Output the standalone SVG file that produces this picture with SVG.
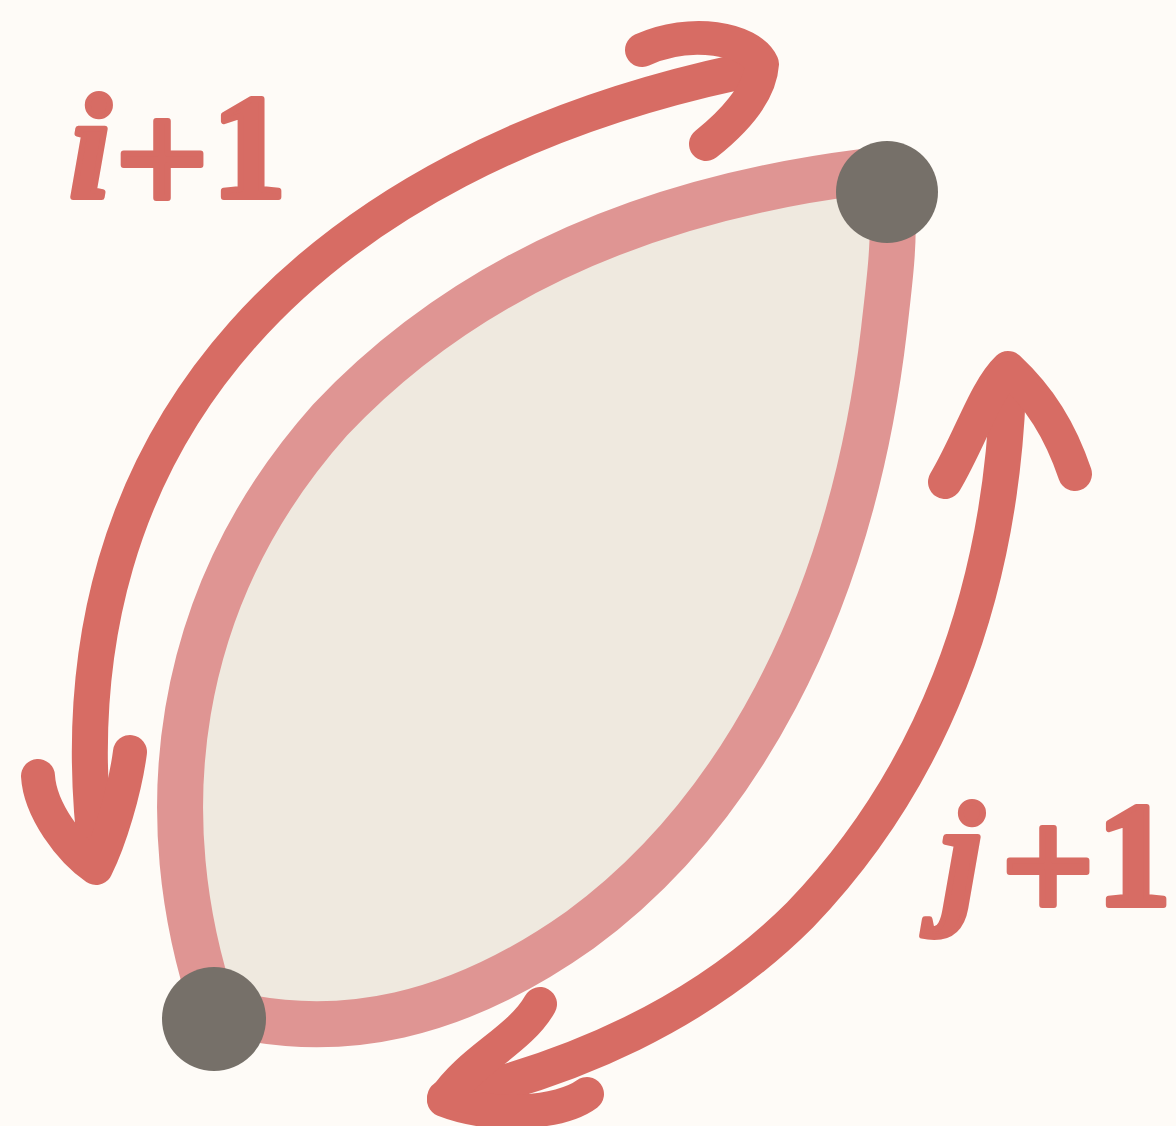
<svg xmlns="http://www.w3.org/2000/svg" width="1176" height="1126" viewBox="0 0 1176 1126">
<style>
.arrow{fill:none;stroke:#d76c64;stroke-width:36;stroke-linecap:round;stroke-linejoin:round}
.head{fill:none;stroke:#d76c64;stroke-width:34;stroke-linecap:round;stroke-linejoin:round}
.lbl{font-family:"Liberation Serif","DejaVu Serif",serif;font-weight:bold;font-size:148px;fill:#d76c64;stroke:#d76c64;stroke-width:6;stroke-linejoin:round;text-anchor:middle}
.dot{fill:#767069}
</style>
<rect width="1176" height="1126" fill="#fefbf7"/>
<g id="lens">
<path d="M214,1010 C150,820 170,600 330,420 C500,240 720,190 862,172 C905,170 893,250 884,330 C850,620 730,820 580,930 C460,1015 340,1045 214,1010 Z" fill="#efe9df" stroke="#df9593" stroke-width="46" stroke-linejoin="round"/>
</g>
<g id="connectors">
<path class="arrow" d="M738,72 C330,160 40,420 97,860"/>
<path class="head" d="M642,50 C690,28 750,38 762,64 C760,95 730,125 706,144"/>
<path class="head" d="M38,776 C40,810 70,850 96,868 C110,840 125,790 130,752"/>
<path class="arrow" d="M1008,390 C1000,600 930,780 800,915 C700,1015 570,1070 445,1098"/>
<path class="head" d="M945,482 C970,440 985,390 1008,368 C1040,398 1060,430 1075,474"/>
<path class="head" d="M540,1004 C520,1040 470,1060 444,1100 C490,1118 560,1114 587,1094"/>
</g>
<g id="node-top"><circle class="dot" cx="887" cy="192" r="51"/></g>
<g id="node-bottom"><circle class="dot" cx="214" cy="1019" r="52"/></g>
<g id="label-i">
<text class="lbl" y="197"><tspan x="90" font-style="italic">i</tspan><tspan x="162" y="214" font-size="165">+</tspan><tspan x="249" y="197">1</tspan></text>
</g>
<g id="label-j">
<text class="lbl" y="905"><tspan x="962" font-style="italic">j</tspan><tspan x="1048" y="921" font-size="165">+</tspan><tspan x="1134" y="905">1</tspan></text>
</g>
</svg>
